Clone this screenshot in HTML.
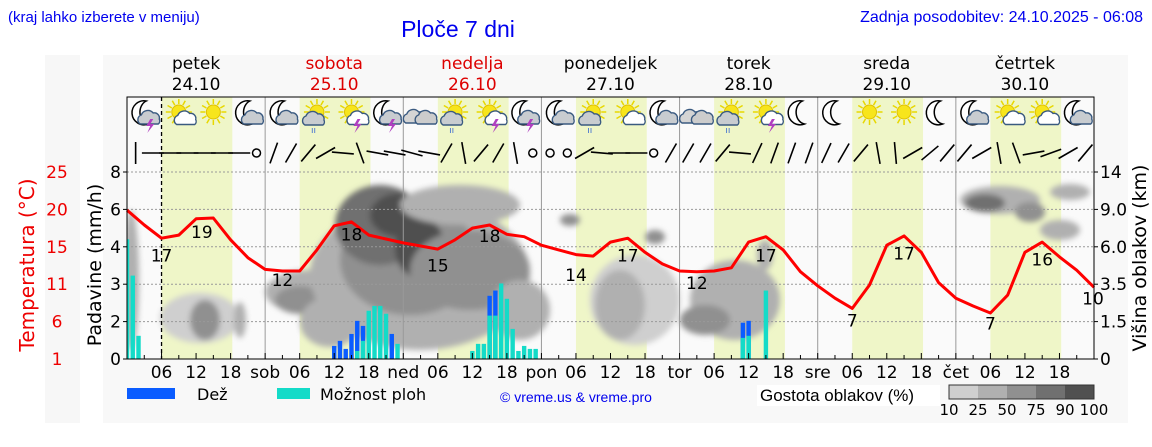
<!DOCTYPE html>
<html><head><meta charset="utf-8"><style>
body{margin:0;background:#fff;width:1152px;height:443px;overflow:hidden;font-family:"DejaVu Sans","Liberation Sans",sans-serif;}
svg text{font-family:"DejaVu Sans","Liberation Sans",sans-serif;}
</style></head><body>
<svg id="c" width="1152" height="443" viewBox="0 0 1152 443">
<defs><filter id="bl" x="-30%" y="-30%" width="160%" height="160%"><feGaussianBlur stdDeviation="3"/></filter>
<clipPath id="pc"><rect x="127" y="97" width="967" height="262"/></clipPath></defs>
<rect x="45" y="55" width="35" height="368" fill="#f7f7f7"/>
<rect x="103" y="55" width="1025" height="368" fill="#f8f8f8"/>
<rect x="127" y="97" width="967" height="262" fill="#fafafa"/>
<g id="bands"></g><g id="clouds" clip-path="url(#pc)" filter="url(#bl)"></g><g id="grid"></g><g id="bars"></g><g id="line"></g><g id="icons"></g><g id="wind"></g><g id="axes"></g>
<text x="8" y="22" font-size="15" fill="#0000ee" style="font-family:'Liberation Sans',sans-serif">(kraj lahko izberete v meniju)</text>
<text x="458" y="37" font-size="23" fill="#0000ee" text-anchor="middle" style="font-family:'Liberation Sans',sans-serif">Ploče 7 dni</text>
<text x="1143" y="22" font-size="16" fill="#0000ee" text-anchor="end" style="font-family:'Liberation Sans',sans-serif">Zadnja posodobitev: 24.10.2025 - 06:08</text>
<text transform="translate(34,265) rotate(-90)" font-size="20" fill="#e00" text-anchor="middle">Temperatura (°C)</text>
<text transform="translate(101,265) rotate(-90)" font-size="19" fill="#000" text-anchor="middle">Padavine (mm/h)</text>
<text transform="translate(1146,258) rotate(-90)" font-size="19" fill="#000" text-anchor="middle">Višina oblakov (km)</text>
<rect x="127" y="388" width="48" height="11" fill="#0a5cff"/>
<text x="197" y="400" font-size="16">Dež</text>
<rect x="277" y="388" width="33" height="11" fill="#14dbc8"/>
<text x="320" y="400" font-size="16">Možnost ploh</text>
<text x="500" y="402" font-size="14" fill="#0000ee" style="font-family:'Liberation Sans',sans-serif">© vreme.us &amp; vreme.pro</text>
<rect x="757" y="385" width="183" height="21" fill="#fff"/>
<text x="760" y="401" font-size="17" style="font-family:'Liberation Sans',sans-serif">Gostota oblakov (%)</text>
<g id="cbar"></g>
</svg>
<script>
const NS='http://www.w3.org/2000/svg';
const svg=document.getElementById('c');
function mk(t,a,p){const e=document.createElementNS(NS,t);for(const k in a)e.setAttribute(k,a[k]);(p||svg).appendChild(e);return e;}
// ---- data ----
const dayNames=['petek','sobota','nedelja','ponedeljek','torek','sreda','četrtek'];
const dayDates=['24.10','25.10','26.10','27.10','28.10','29.10','30.10'];
const dayAbbr=['','sob','ned','pon','tor','sre','čet'];
const precipTicks=['0','2','3','4','6','8'];
const heightTicks=['0','1.5','3.5','6.0','9.0','14'];
const tempTicks=['1','6','11','15','20','25'];
const tempHours=[0,3,6,9,12,15,18,21,24,27,30,33,36,39,42,45,48,51,54,57,60,63,66,69,72,75,78,81,84,87,90,93,96,99,102,105,108,111,114,117,120,123,126,129,132,135,138,141,144,147,150,153,156,159,162,165,168];
const tempVals=[20.1,18.2,16.5,16.9,19.0,19.1,16.3,14.0,12.5,12.3,12.3,15.0,18.1,18.6,16.9,16.4,15.9,15.5,15.1,16.3,17.8,18.2,17.0,16.7,15.6,15.0,14.4,14.2,16.0,16.5,14.7,13.2,12.3,12.2,12.3,12.7,16.0,16.7,15.0,12.2,10.4,8.8,7.5,10.5,15.6,16.8,14.7,10.8,8.8,7.8,6.9,9.2,14.7,16.0,14.1,12.4,10.2];
const tempLabelHours=[6,13,27,39,54,63,78,87,99,111,126,135,150,159,168];
const tempLabelText=['17','19','12','18','15','18','14','17','12','17','7','17','7','16','10'];
const tempLabelVals=[13.5,16.5,10.4,16.2,12.2,16.0,11.0,13.5,10.0,13.5,5.2,13.8,4.8,13.0,8.0];
const rainHours=[36,37,38,39,40,41,46,63,64,107,108];
const rainVals=[0.70,0.97,0.54,1.34,2.02,1.77,1.34,2.69,2.83,1.94,2.02];
const chanceHours=[0,1,2,40,41,42,43,44,45,47,60,61,62,63,64,65,66,67,68,69,70,71,107,108,111];
const chanceVals=[4.4,3.23,1.24,0.43,0.97,2.29,2.42,2.42,2.21,0.81,0.43,0.81,0.81,2.16,2.16,3.02,2.61,1.61,0.43,0.70,0.54,0.54,1.13,1.24,2.83];
const iconTypes=['ms','sc','s','mc','mc','sr','st','ms','c','sr','st','ms','mc','sr','sc','mc','c','sr','st','m','m','s','s','m','mc','sc','sc','mc'];
const windAngles=[0,90,90,90,90,90,90,-1,20,30,40,60,95,160,100,100,105,100,30,170,40,30,170,-1,-1,-1,60,95,90,90,-1,30,30,30,40,95,25,20,20,20,25,30,40,170,175,60,50,40,40,60,170,160,80,70,60,40];
const cloudLevels=['#cfcfcf','#b0b0b0','#909090','#707070','#505050'];
const cloudLabels=['10','25','50','75','90','100'];
// ---- scales ----
const X0=127,X1=1094,YB=359,YT=172;
const step=(YB-YT)/5;
function xOf(h){return X0+h*(X1-X0)/168;}
function yP(v){const t=[0,2,3,4,6,8];for(let i=0;i<5;i++){if(v<=t[i+1])return YB-(i+(v-t[i])/(t[i+1]-t[i]))*step;}return YT;}
function yT(v){return YB-(v-1)*(YB-YT)/24;}
for(let d=0;d<7;d++){const b=mk('rect',{x:xOf(d*24+6),y:97,width:xOf(d*24+18.3)-xOf(d*24+6),height:262,fill:'#eff6c8'},document.getElementById('bands'));

}
const cg=document.getElementById('clouds');
const blobs=[[131,280,8,70,1],[200,318,40,25,0],[205,320,15,20,2],[240,320,6,18,1],[310,292,45,22,1],[300,300,25,14,2],[330,322,30,25,1],[420,275,110,75,1],[410,260,70,55,2],[380,225,45,40,3],[400,215,30,22,4],[420,248,25,30,4],[460,205,60,20,1],[470,270,60,40,2],[520,310,30,30,1],[570,220,10,6,2],[635,300,45,45,0],[620,305,25,35,1],[655,237,10,7,2],[735,300,45,40,1],[705,320,25,15,2],[765,255,8,15,1],[1000,200,40,14,1],[985,203,20,9,3],[1030,212,15,10,2],[1070,192,20,8,1],[1060,230,20,10,1]];
blobs.forEach(b=>{const e=mk('ellipse',{cx:b[0],cy:b[1],rx:b[2],ry:b[3],fill:cloudLevels[b[4]]},cg);

});
const gg=document.getElementById('grid');
for(let i=1;i<6;i++){const l=mk('line',{x1:X0,x2:X1,y1:YB-i*step,y2:YB-i*step,stroke:'#999','stroke-dasharray':'2,2','stroke-width':1},gg);

}
for(let d=1;d<7;d++){const l=mk('line',{x1:xOf(d*24),x2:xOf(d*24),y1:97,y2:YB,stroke:'#999','stroke-width':1},gg);

}
const nowL=mk('line',{x1:xOf(6),x2:xOf(6),y1:97,y2:YB,stroke:'#000','stroke-dasharray':'4,3','stroke-width':1.3},gg);


const bg=document.getElementById('bars');
rainHours.forEach((h,i)=>{const x=Math.max(X0,xOf(h)-2.2);const r=mk('rect',{x:x,y:yP(rainVals[i]),width:xOf(h)+2.2-x,height:YB-yP(rainVals[i]),fill:'#0a5cff'},bg);

});
chanceHours.forEach((h,i)=>{const x=Math.max(X0,xOf(h)-2.2);const r=mk('rect',{x:x,y:yP(chanceVals[i]),width:xOf(h)+2.2-x,height:YB-yP(chanceVals[i]),fill:'#14dbc8'},bg);

});
const lg=document.getElementById('line');
const pl=mk('polyline',{points:tempHours.map((h,i)=>xOf(h).toFixed(1)+','+yT(tempVals[i]).toFixed(1)).join(' '),fill:'none',stroke:'#f00','stroke-width':3,'stroke-linejoin':'round'},lg);


tempLabelHours.forEach((h,i)=>{const t=mk('text',{x:Math.min(xOf(h),1093),y:yT(tempLabelVals[i]),'font-size':17,'text-anchor':'middle'},lg);t.textContent=tempLabelText[i];

});
const ig=document.getElementById('icons');
function sun(x,y,g){for(let k=0;k<12;k++){const a=k*Math.PI/6;mk('line',{x1:x+8*Math.cos(a),y1:y+8*Math.sin(a),x2:x+13*Math.cos(a),y2:y+13*Math.sin(a),stroke:'#e8d800','stroke-width':1.5},g);}mk('circle',{cx:x,cy:y,r:7,fill:'#f7e51c',stroke:'#e0c000'},g);}
function moon(x,y,g){mk('path',{d:`M${x+4},${y-12} A12,12 0 1,0 ${x+6},${y+11} A10,12 0 0,1 ${x+4},${y-12}Z`,fill:'#fff',stroke:'#000','stroke-width':1.5},g);}
function cloud(x,y,s,g,f){mk('path',{d:`M${x-9*s},${y+5*s} a5,5 0 0,1 1,-9 a7,7 0 0,1 12,-2 a5,5 0 0,1 6,6 a4,4 0 0,1 -1,5 Z`,fill:f||'#ccc',stroke:'#3a5a80','stroke-width':1.4},g);}
function bolt(x,y,g){mk('path',{d:`M${x},${y} l-4,7 h4 l-3,7 l7,-9 h-4 l3,-5z`,fill:'#b040c0'},g);}
iconTypes.forEach((t,i)=>{const x=xOf(3+6*i),y=115;const g=mk('g',{},ig);


if(t[0]=='m')moon(x-2,y-2,g);if(t[0]=='s')sun(x,y-3,g);
if(t=='mc'||t=='ms')cloud(x+5,y+4,1,g,'#c8ccd0');
if(t=='c'){cloud(x-4,y+2,1.2,g,'#d4d4d4');cloud(x+6,y+4,1,g,'#ccc');}
if(t=='sc'||t=='st')cloud(x+6,y+5,0.9,g,'#fff');
if(t=='sr'){cloud(x-3,y+5,1,g,'#c8ccd0');mk('text',{x:x-6,y:y+18,'font-size':9,fill:'#3a6ad0'},g).textContent='ıı';}
if(t=='ms'||t=='st')bolt(x+6,y+4,g);});
const wg=document.getElementById('wind');
windAngles.forEach((a,i)=>{const x=xOf(1.5+3*i),y=153;let e;
if(a<0){e=mk('circle',{cx:x,cy:y,r:4,fill:'none',stroke:'#000','stroke-width':1.5},wg);}
else{const r=a*Math.PI/180,L=11;e=mk('line',{x1:x-L*Math.sin(r),y1:y+L*Math.cos(r),x2:x+L*Math.sin(r),y2:y-L*Math.cos(r),stroke:'#000','stroke-width':1.6},wg);}

});
const ag=document.getElementById('axes');
mk('path',{d:`M${X0},${YB} V97 H${X1} V${YB}`,fill:'none',stroke:'#000','stroke-width':1},ag);
mk('line',{x1:X0,x2:X1,y1:YB,y2:YB,stroke:'#000'},ag);
for(let i=0;i<6;i++){const y=YB-i*step;
let t=mk('text',{x:121,y:y+6,'font-size':17,'text-anchor':'end'},ag);t.textContent=precipTicks[i];


t=mk('text',{x:1100,y:y+6,'font-size':17},ag);t.textContent=heightTicks[i];


t=mk('text',{x:57,y:y+6,'font-size':17,fill:'#e00','text-anchor':'middle'},ag);t.textContent=tempTicks[i];


mk('line',{x1:X0-4,x2:X0,y1:y,y2:y,stroke:'#000'},ag);mk('line',{x1:X1,x2:X1+4,y1:y,y2:y,stroke:'#000'},ag);}
for(let h=0;h<=168;h+=3){mk('line',{x1:xOf(h),x2:xOf(h),y1:YB,y2:YB-(h%6?4:6),stroke:'#000'},ag);}
for(let d=0;d<7;d++){
 const col=(d==1||d==2)?'#d00':'#000';
 let t=mk('text',{x:xOf(d*24+12),y:69,'font-size':17,fill:col,'text-anchor':'middle'},ag);t.textContent=dayNames[d];
 
 
 t=mk('text',{x:xOf(d*24+12),y:90,'font-size':17,fill:col,'text-anchor':'middle'},ag);t.textContent=dayDates[d];
 
 
 [0,6,12,18].forEach(hh=>{const lab=hh==0?dayAbbr[d]:String(hh).padStart(2,'0');if(!lab)return;
  const tt=mk('text',{x:xOf(d*24+hh),y:378,'font-size':17,'text-anchor':'middle'},ag);tt.textContent=lab;
  
  });}
const cb=document.getElementById('cbar');
cloudLevels.forEach((c,i)=>{const r=mk('rect',{x:949+i*29,y:385,width:29,height:14,fill:c},cb);

});
mk('rect',{x:949,y:385,width:145,height:14,fill:'none',stroke:'#333'},cb);
cloudLabels.forEach((l,i)=>{const t=mk('text',{x:949+i*29,y:415,'font-size':15,'text-anchor':'middle'},cb);t.textContent=l;

});
</script>
</body></html>
